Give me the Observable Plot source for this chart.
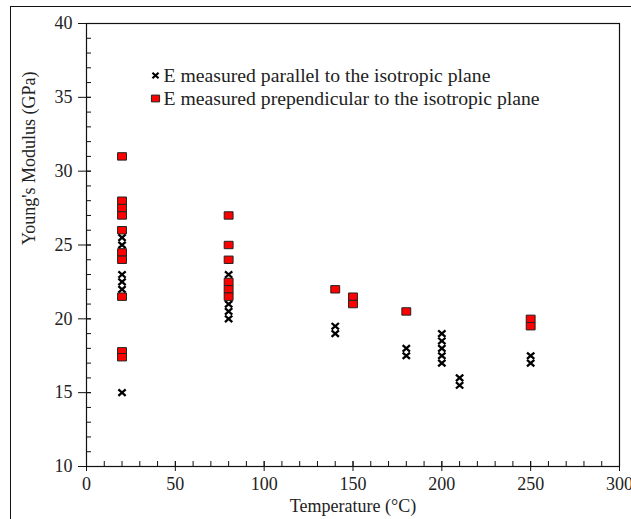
<!DOCTYPE html>
<html>
<head>
<meta charset="utf-8">
<script src="https://cdn.jsdelivr.net/npm/d3@7"></script>
<script src="https://cdn.jsdelivr.net/npm/@observablehq/plot@0.6"></script>
<style>
  html, body { margin: 0; padding: 0; background: #fff; width: 631px; height: 519px; overflow: hidden; }
  #chart { position: relative; width: 631px; height: 519px; }
  #chart svg { position: absolute; left: 0; top: 0; }
  #border { position: absolute; left: 10px; top: 6px; width: 680px; height: 580px;
            border: 1.5px solid #111; pointer-events: none; }
</style>
</head>
<body>
<div id="chart"><div id="border"></div></div>
<script>
// Young's modulus measured parallel to the isotropic plane
const parallelTemp = [20, 20, 20, 20, 20, 20, 80, 80, 80, 80, 140, 140, 180, 180, 200, 200, 200, 200, 200, 210, 210, 250, 250];
const parallelE    = [25.5, 25, 23, 22.5, 22, 15, 23, 21, 20.5, 20, 19.5, 19, 18, 17.5, 19, 18.5, 18, 17.5, 17, 16, 15.5, 17.5, 17];

// Young's modulus measured perpendicular to the isotropic plane
const perpTemp = [20, 20, 20, 20, 20, 20, 20, 20, 20, 20, 80, 80, 80, 80, 80, 80, 140, 150, 150, 180, 250, 250];
const perpE    = [31, 28, 27.5, 27, 26, 24.5, 24, 21.5, 17.8, 17.4, 27, 25, 24, 22.5, 22, 21.5, 22, 21.5, 21, 20.5, 20, 19.5];

const legendLabels = [
  "E measured parallel to the isotropic plane",
  "E measured prependicular to the isotropic plane"
];

const xTicks = [0, 50, 100, 150, 200, 250, 300];
const yTicks = [10, 15, 20, 25, 30, 35, 40];
const xMinor = d3.range(0, 301, 10);
const yMinor = d3.range(10, 41, 1);

const xLabel = "Temperature (°C)";
const yLabel = "Young's Modulus (GPa)";

const parallel = parallelTemp.map((t, i) => ({t, e: parallelE[i]}));
const perpendicular = perpTemp.map((t, i) => ({t, e: perpE[i]}));

// bold cross marker
const crossSymbol = {
  draw(ctx, size) {
    const r = Math.sqrt(size / Math.PI);
    const w = r * 0.85, h = r * 0.75;
    ctx.moveTo(-w, -h); ctx.lineTo(w, h);
    ctx.moveTo(w, -h); ctx.lineTo(-w, h);
  }
};
// slightly wide rectangle marker
const rectSymbol = {
  draw(ctx, size) {
    const r = Math.sqrt(size / Math.PI);
    ctx.rect(-r * 1.2, -r, r * 2.4, r * 2);
  }
};

const font = "Liberation Serif, Times New Roman, serif";
const fs = 18;       // axis text
const fsLeg = 19.7;  // legend text

const plot = Plot.plot({
  width: 631,
  height: 519,
  marginLeft: 86,
  marginRight: 12,
  marginTop: 23,
  marginBottom: 53,
  style: {fontFamily: font, fontSize: fs + "px", color: "#111", background: "transparent"},
  x: {domain: [0, 300]},
  y: {domain: [10, 40]},
  marks: [
    Plot.frame({stroke: "#111", strokeWidth: 1.2}),
    // minor ticks point inward, major ticks cross the axis
    Plot.axisY(yMinor, {tickSize: 5, dx: 5, fill: "none", label: null, stroke: "#111"}),
    Plot.axisY(yTicks, {tickSize: 13, dx: 5, fill: "none", label: null, stroke: "#111"}),
    Plot.axisY(yTicks, {tickSize: 0, tickPadding: 14, label: null, fontSize: fs, fill: "#222"}),
    Plot.axisX(xMinor, {tickSize: 5, dy: -5, fill: "none", label: null, stroke: "#111"}),
    Plot.axisX(xTicks, {tickSize: 10, dy: -5, fill: "none", label: null, stroke: "#111"}),
    Plot.axisX(xTicks, {tickSize: 0, tickPadding: 11, label: null, fontSize: fs, fill: "#222"}),
    Plot.text([yLabel], {frameAnchor: "left", dx: -57, rotate: -90, fontSize: fs, fill: "#222"}),
    Plot.text([xLabel], {frameAnchor: "bottom", dy: 45, fontSize: fs, fill: "#222"}),
    // data
    Plot.dot(parallel, {x: "t", y: "e", symbol: crossSymbol, r: 4.3, stroke: "#000", strokeWidth: 2.3, fill: "none"}),
    Plot.dot(perpendicular, {x: "t", y: "e", symbol: rectSymbol, r: 3.7, fill: "#ff0000", stroke: "#222", strokeWidth: 1}),
    // legend
    Plot.dot([legendLabels[0]], {frameAnchor: "top-left", dx: 69, dy: 52, symbol: crossSymbol, r: 3.6, stroke: "#000", strokeWidth: 2.2, fill: "none"}),
    Plot.text([legendLabels[0]], {frameAnchor: "top-left", dx: 77, dy: 52, text: d => d, textAnchor: "start", lineAnchor: "middle", fontSize: fsLeg, fill: "#222"}),
    Plot.dot([legendLabels[1]], {frameAnchor: "top-left", dx: 69, dy: 75, symbol: rectSymbol, r: 3.4, fill: "#ff0000", stroke: "#222", strokeWidth: 1}),
    Plot.text([legendLabels[1]], {frameAnchor: "top-left", dx: 77, dy: 75, text: d => d, textAnchor: "start", lineAnchor: "middle", fontSize: fsLeg, fill: "#222"})
  ]
});

document.getElementById("chart").prepend(plot);
</script>
</body>
</html>
